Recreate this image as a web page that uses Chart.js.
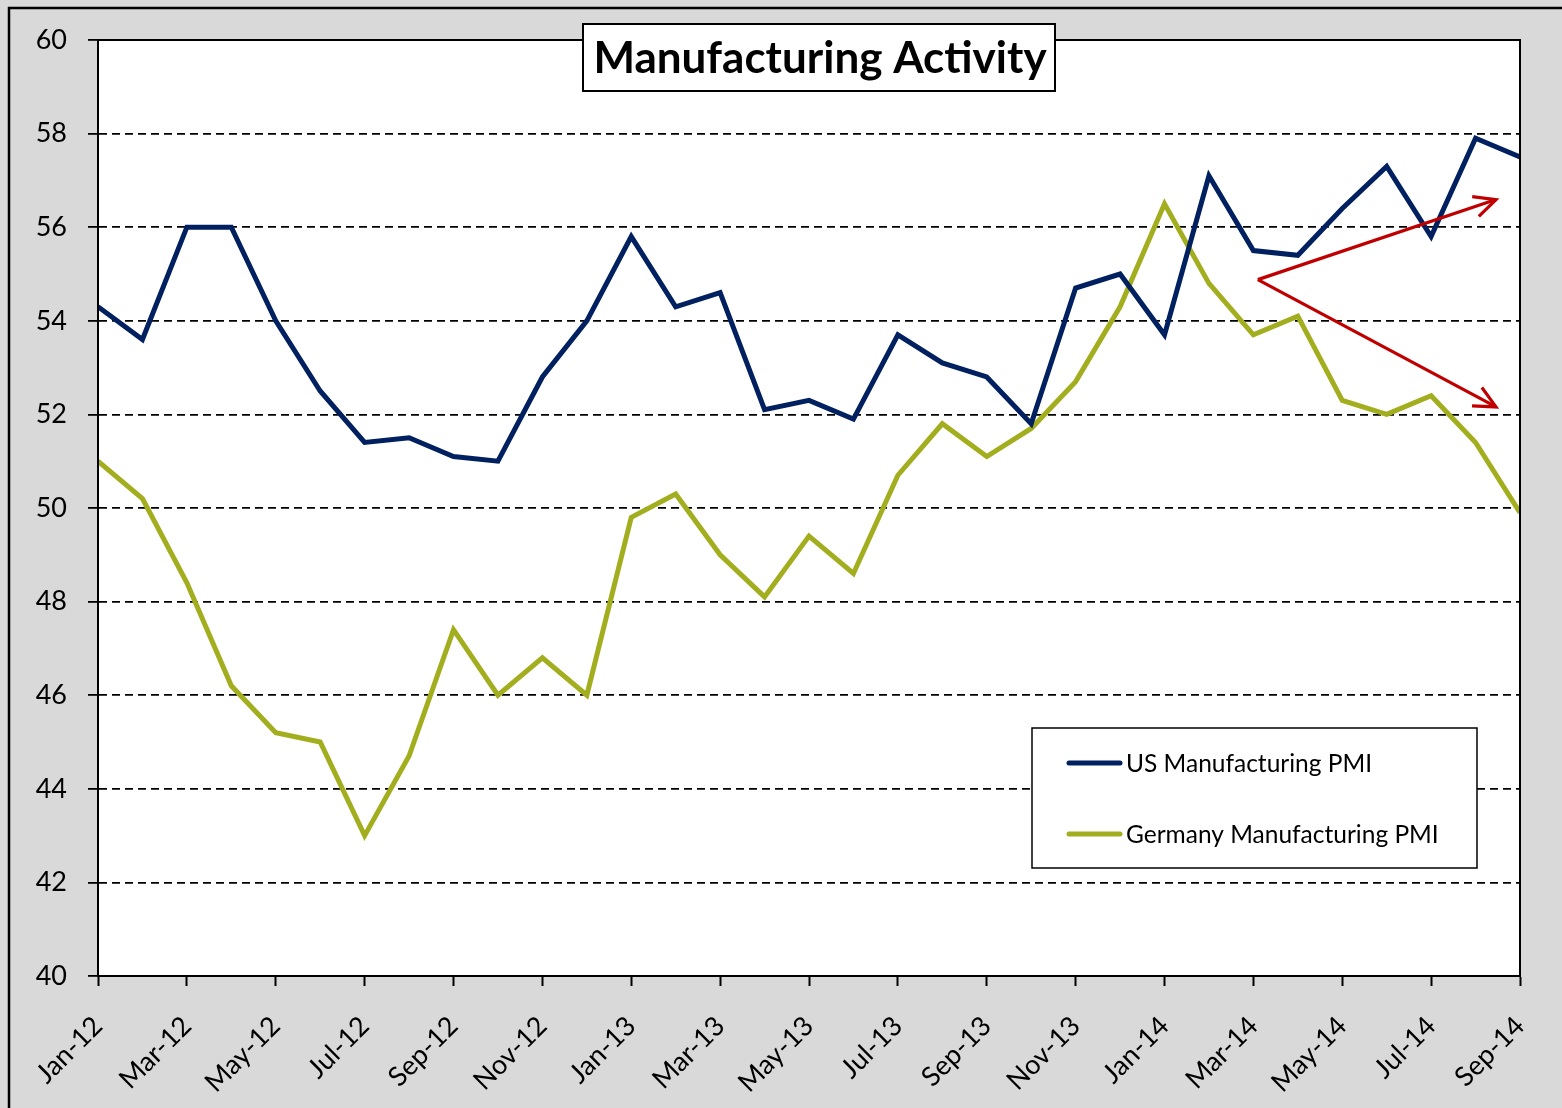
<!DOCTYPE html>
<html>
<head>
<meta charset="utf-8">
<title>Manufacturing Activity</title>
<script src="https://cdn.jsdelivr.net/npm/chart.js@4.4.1/dist/chart.umd.min.js"></script>
<style>
html,body{margin:0;padding:0;background:#d9d9d9;}
#wrap{width:1562px;height:1108px;}
</style>
</head>
<body>
<div id="wrap"><canvas id="pmiChart" width="1562" height="1108"></canvas></div>
<script>
// months on the x axis
const months=["Jan-12","Feb-12","Mar-12","Apr-12","May-12","Jun-12","Jul-12","Aug-12","Sep-12","Oct-12","Nov-12","Dec-12",
"Jan-13","Feb-13","Mar-13","Apr-13","May-13","Jun-13","Jul-13","Aug-13","Sep-13","Oct-13","Nov-13","Dec-13",
"Jan-14","Feb-14","Mar-14","Apr-14","May-14","Jun-14","Jul-14","Aug-14","Sep-14"];

const usPmi=[54.3,53.6,56.0,56.0,54.0,52.5,51.4,51.5,51.1,51.0,52.8,54.0,
55.8,54.3,54.6,52.1,52.3,51.9,53.7,53.1,52.8,51.8,54.7,55.0,
53.7,57.1,55.5,55.4,56.4,57.3,55.8,57.9,57.5];

const germanyPmi=[51.0,50.2,48.4,46.2,45.2,45.0,43.0,44.7,47.4,46.0,46.8,46.0,
49.8,50.3,49.0,48.1,49.4,48.6,50.7,51.8,51.1,51.7,52.7,54.3,
56.5,54.8,53.7,54.1,52.3,52.0,52.4,51.4,49.9];

const yMin=40;
const yMax=60;
const yStep=2;

// red arrows, in data units (month index, PMI)
const arrowFrom=[26.1,54.88];
const arrowTo=[[31.46,56.59],[31.46,52.16]];

const seriesNames=["US Manufacturing PMI","Germany Manufacturing PMI"];
const seriesColors=["#002060","#a3ae1f"];
const chartTitle="Manufacturing Activity";

const FONT="Lato, 'Open Sans', sans-serif";

function arrow(ctx,x1,y1,x2,y2){
const ang=Math.atan2(y2-y1,x2-x1);
const head=24;
ctx.beginPath();
ctx.moveTo(x1,y1);
ctx.lineTo(x2,y2);
ctx.stroke();
ctx.beginPath();
ctx.moveTo(x2-head*Math.cos(ang-0.45),y2-head*Math.sin(ang-0.45));
ctx.lineTo(x2,y2);
ctx.lineTo(x2-head*Math.cos(ang+0.45),y2-head*Math.sin(ang+0.45));
ctx.stroke();
}

const framePlugin={
id:"frame",
beforeDraw(chart){
const ctx=chart.ctx;
const a=chart.chartArea;
ctx.save();
ctx.fillStyle="#d9d9d9";
ctx.fillRect(0,0,chart.width,chart.height);
ctx.strokeStyle="#000";
ctx.lineWidth=2.5;
ctx.strokeRect(9,8,chart.width+40,chart.height+40);
ctx.fillStyle="#fff";
ctx.fillRect(a.left,a.top,a.right-a.left,a.bottom-a.top);
ctx.restore();
},
afterDatasetsDraw(chart){
const ctx=chart.ctx;
const a=chart.chartArea;
const xs=chart.scales.x;
const ys=chart.scales.y;
ctx.save();
ctx.strokeStyle="#000";
ctx.lineWidth=2;
ctx.strokeRect(a.left,a.top,a.right-a.left,a.bottom-a.top);

ctx.strokeStyle="#c00000";
ctx.lineWidth=3.2;
ctx.lineJoin="miter";
ctx.lineCap="butt";
const x0=xs.getPixelForValue(arrowFrom[0]);
const y0=ys.getPixelForValue(arrowFrom[1]);
arrowTo.forEach(p=>{
arrow(ctx,x0,y0,xs.getPixelForValue(p[0]),ys.getPixelForValue(p[1]));
});
ctx.restore();
},
afterDraw(chart){
const ctx=chart.ctx;
ctx.save();

// title box
ctx.fillStyle="#fff";
ctx.fillRect(583,24,472,67);
ctx.strokeStyle="#000";
ctx.lineWidth=2;
ctx.strokeRect(583,24,472,67);
ctx.fillStyle="#000";
ctx.font="bold 44px "+FONT;
ctx.textAlign="center";
ctx.textBaseline="middle";
ctx.fillText(chartTitle,820,59);

// legend box
ctx.fillStyle="#fff";
ctx.fillRect(1032,728,445,140);
ctx.lineWidth=1.5;
ctx.strokeRect(1032,728,445,140);
ctx.font="24.5px "+FONT;
ctx.textAlign="left";
const rows=[763,834];
chart.data.datasets.forEach((ds,i)=>{
ctx.strokeStyle=ds.borderColor;
ctx.lineWidth=5;
ctx.lineCap="round";
ctx.beginPath();
ctx.moveTo(1069,rows[i]);
ctx.lineTo(1120,rows[i]);
ctx.stroke();
ctx.fillStyle="#000";
ctx.fillText(ds.label,1126,rows[i]+1);
});
ctx.restore();
}
};

const pmiChart=new Chart(document.getElementById("pmiChart"),{
type:"line",
data:{
labels:months,
datasets:[{
label:seriesNames[0],
data:usPmi,
borderColor:seriesColors[0],
backgroundColor:seriesColors[0],
borderWidth:5,
pointRadius:0,
tension:0,
clip:0
},{
label:seriesNames[1],
data:germanyPmi,
borderColor:seriesColors[1],
backgroundColor:seriesColors[1],
borderWidth:5,
pointRadius:0,
tension:0,
clip:0
}]
},
options:{
responsive:false,
animation:false,
devicePixelRatio:1,
layout:{padding:{left:0,top:40,right:42,bottom:0}},
plugins:{
legend:{display:false},
title:{display:false},
tooltip:{enabled:false}
},
scales:{
x:{
offset:false,
afterFit(scale){
scale.height=132;
scale.paddingLeft=0;
scale.paddingRight=0;
},
grid:{
drawOnChartArea:false,
drawTicks:true,
tickLength:10,
tickWidth:c=>c.index%2===0?2:0,
tickColor:"#000"
},
border:{display:true,color:"#000",width:2},
ticks:{
autoSkip:false,
minRotation:45,
maxRotation:45,
padding:24,
color:"#000",
font:{family:FONT,size:27},
callback(v,i){return i%2===0?months[i]:"";}
}
},
y:{
min:yMin,
max:yMax,
afterFit(scale){
scale.width=98;
},
grid:{
color:"#000",
lineWidth:1.8,
drawTicks:true,
tickLength:10,
tickColor:"#000",
tickWidth:1.8
},
border:{display:true,color:"#000",width:2,dash:[8,5]},
ticks:{
stepSize:yStep,
padding:21,
color:"#000",
font:{family:FONT,size:27}
}
}
}
},
plugins:[framePlugin]
});
</script>
</body>
</html>
